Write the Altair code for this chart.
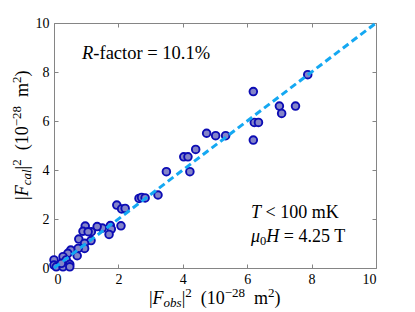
import altair as alt
import pandas as pd

# ---- data ----
obs = [7.88, 6.19, 7.00, 7.50, 7.07, 6.22, 6.35, 6.19, 4.74, 5.02, 5.33, 4.40, 4.03, 4.16,
       4.22, 3.49, 3.23, 2.64, 2.72, 2.83, 1.95, 2.10, 2.21, 2.08, 1.75, 1.78, 1.71, 1.50,
       1.34, 1.16, 0.97, 0.90, 1.06, 1.15, 0.77, 0.95, 0.95, 0.75, 0.52, 0.43, 0.72, 0.28,
       0.38, 0.49, 0.00, 0.00, 0.07, 0.28, 0.49, 0.23]
cal = [7.89, 7.20, 6.61, 6.61, 6.31, 5.94, 5.94, 5.22, 5.50, 5.40, 5.40, 4.84, 4.54, 4.54,
       3.93, 3.93, 2.98, 2.84, 2.88, 2.86, 2.57, 2.41, 2.43, 1.72, 1.73, 1.59, 1.37, 1.63,
       1.69, 1.48, 1.71, 1.50, 1.48, 1.12, 1.18, 1.01, 0.80, 0.80, 0.73, 0.60, 0.50, 0.46,
       0.33, 0.15, 0.33, 0.12, 0.05, 0.05, 0.05, 0.19]
line_x = [0, 10]
line_y = [0, 10]
ticks = [0, 2, 4, 6, 8, 10]

# annotation anchors (data units)
rfac_pos = (0.87, 8.55)
temp_pos = (6.12, 2.04)
field_pos = (6.12, 1.06)
xtitle_pos = (2.95, -1.47)
ytitle_pos = (-0.81, 2.78)

FONT = "Liberation Serif"
GRAY = "#858585"

xscale = alt.Scale(domain=[0, 10], nice=False, zero=False)
yscale = alt.Scale(domain=[0, 10], nice=False, zero=False)

W_REG = {' ': 0.25, '(': 0.333, ')': 0.333, '|': 0.2, '-': 0.333, '=': 0.564, '.': 0.25,
         '%': 0.833, '<': 0.564, 'a': 0.444, 'c': 0.444, 'f': 0.333, 'o': 0.5, 'r': 0.333,
         't': 0.278, 'm': 0.778, 'K': 0.722, 'T': 0.611, '\u2212': 0.564}
W_IT = {'R': 0.611, 'F': 0.611, 'T': 0.556, 'H': 0.722, '\u03bc': 0.5, 'o': 0.5, 'b': 0.5,
        's': 0.389, 'c': 0.444, 'a': 0.5, 'l': 0.278}


def seg_width(t, italic, size):
    tab = W_IT if italic else W_REG
    return sum(tab.get(c, W_REG.get(c, 0.5)) for c in t) * size


def text_group(segs, pos, angle=0):
    layers = []
    dx = 0.0
    for (t, italic, size, dy) in segs:
        stripped = t.lstrip(' ')
        dx += seg_width(t[:len(t) - len(stripped)], False, size)
        df = pd.DataFrame({'x': [pos[0]], 'y': [pos[1]], 'label': [stripped]})
        mk = alt.Chart(df).mark_text(
            align='left', baseline='alphabetic', font=FONT, fontSize=size,
            fontStyle='italic' if italic else 'normal', dx=dx, dy=dy, angle=angle,
            color='black', clip=False)
        layers.append(mk.encode(
            x=alt.X('x:Q', scale=xscale, axis=None),
            y=alt.Y('y:Q', scale=yscale, axis=None),
            text='label:N'))
        dx += seg_width(stripped, italic, size)
    return layers


pts_df = pd.DataFrame({'obs': obs, 'cal': cal})
line_df = pd.DataFrame({'x': line_x, 'y': line_y})

ax_common = dict(values=ticks, offset=-4, tickSize=4, domain=False, grid=False, title=None,
                 tickColor=GRAY, tickWidth=1, labelFont=FONT, labelFontSize=14,
                 labelColor='black')

points = alt.Chart(pts_df).mark_circle(
    size=58, fill='#8484c8', stroke='#0c0cb4', strokeWidth=1.9, opacity=1, clip=False
).encode(
    x=alt.X('obs:Q', scale=xscale, axis=alt.Axis(orient='bottom', labelPadding=4, **ax_common)),
    y=alt.Y('cal:Q', scale=yscale, axis=alt.Axis(orient='left', labelPadding=5, **ax_common)),
)

line = alt.Chart(line_df).mark_line(
    color='#14a8f2', strokeWidth=3, strokeDash=[7, 4]
).encode(
    x=alt.X('x:Q', scale=xscale, axis=alt.Axis(orient='top', labels=False, **ax_common)),
    y=alt.Y('y:Q', scale=yscale, axis=alt.Axis(orient='right', labels=False, **ax_common)),
)

texts = []
texts += text_group([("R", True, 18.5, 0), ("-factor = 10.1%", False, 18.5, 0)], rfac_pos)
texts += text_group([("T", True, 18, 0), (" < 100 mK", False, 18, 0)], temp_pos)
texts += text_group([("\u03bc", True, 18, 0), ("0", False, 12.5, 3), ("H", True, 18, 0),
                     (" = 4.25 T", False, 18, 0)], field_pos)

title_x = [("|", False, 18, 0), ("F", True, 18, 0), ("obs", True, 13, 3), ("|", False, 18, 0),
           ("2", False, 13, -7), ("  (10", False, 18, 0), ("\u221228", False, 13, -7),
           ("  m", False, 18, 0), ("2", False, 13, -7), (")", False, 18, 0)]
title_y = [("|", False, 18, 0), ("F", True, 18, 0), ("cal", True, 13, 3), ("|", False, 18, 0),
           ("2", False, 13, -7), ("  (10", False, 18, 0), ("\u221228", False, 13, -7),
           ("  m", False, 18, 0), ("2", False, 13, -7), (")", False, 18, 0)]
texts += text_group(title_x, xtitle_pos)
texts += text_group(title_y, ytitle_pos, angle=270)

chart = alt.layer(points, line, *texts).resolve_axis(
    x='independent', y='independent'
).properties(
    width=322, height=245,
    padding={'left': 46, 'top': 15, 'right': 28, 'bottom': 42},
    autosize=alt.AutoSizeParams(type='none'),
).configure_axis(
    labelFont=FONT, labelFontSize=14, labelColor='black'
).configure_view(stroke=GRAY, strokeWidth=1)

chart.save("out.html", embed_options={"renderer": "svg", "actions": False})
